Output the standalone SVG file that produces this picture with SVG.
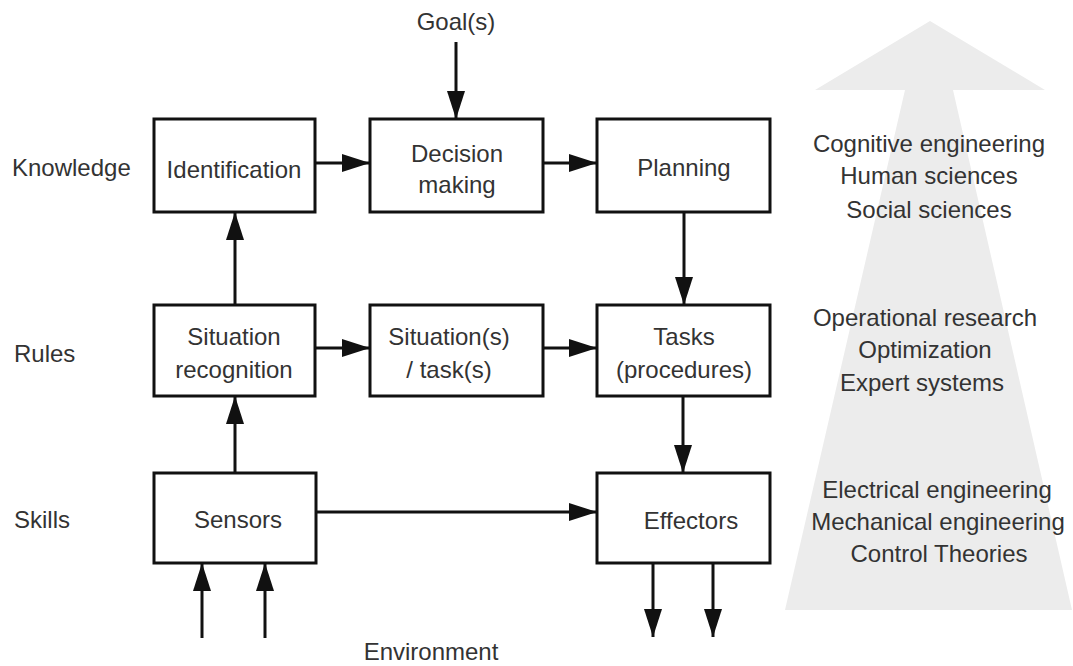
<svg xmlns="http://www.w3.org/2000/svg" width="1073" height="666" viewBox="0 0 1073 666">
<style>
  text { font-family: "Liberation Sans", Arial, sans-serif; font-size: 24px; fill: #333; }
  .c { text-anchor: middle; }
  .box { fill: #fff; stroke: #111; stroke-width: 3; }
  .ln { stroke: #111; stroke-width: 3; fill: none; marker-end: url(#ah); }
</style>
<defs>
  <marker id="ah" markerUnits="userSpaceOnUse" markerWidth="28" markerHeight="18" refX="28" refY="9" orient="auto">
    <path d="M0,0 L28,9 L0,18 z" fill="#111"/>
  </marker>
</defs>
<rect width="1073" height="666" fill="#fff"/>
<g id="bigarrow">
  <polygon points="930,21 1045,90 953,90 1072,610 785,610 905,90 815,90" fill="#ececec"/>
</g>
<g id="levels">
  <text x="12" y="176">Knowledge</text>
  <text x="14" y="362">Rules</text>
  <text x="14" y="528">Skills</text>
</g>
<g id="goal"><text class="c" x="456" y="30">Goal(s)</text></g>
<g id="environment"><text class="c" x="431" y="660">Environment</text></g>
<g id="identification"><rect class="box" x="154" y="119" width="161" height="93"/><text class="c" x="234" y="178">Identification</text></g>
<g id="decision"><rect class="box" x="370" y="119" width="173" height="93"/><text class="c" x="457" y="162">Decision</text><text class="c" x="457" y="193">making</text></g>
<g id="planning"><rect class="box" x="597" y="119" width="173" height="93"/><text class="c" x="684" y="176">Planning</text></g>
<g id="sitrec"><rect class="box" x="154" y="305" width="161" height="91"/><text class="c" x="234" y="345">Situation</text><text class="c" x="234" y="378">recognition</text></g>
<g id="sittask"><rect class="box" x="370" y="305" width="173" height="91"/><text class="c" x="449" y="345">Situation(s)</text><text class="c" x="449" y="378">/ task(s)</text></g>
<g id="tasks"><rect class="box" x="597" y="305" width="173" height="91"/><text class="c" x="684" y="345">Tasks</text><text class="c" x="684" y="378">(procedures)</text></g>
<g id="sensors"><rect class="box" x="154" y="473" width="162" height="90"/><text class="c" x="238" y="528">Sensors</text></g>
<g id="effectors"><rect class="box" x="597" y="473" width="173" height="90"/><text class="c" x="691" y="529">Effectors</text></g>
<g id="fields">
  <text class="c" x="929" y="152">Cognitive engineering</text>
  <text class="c" x="929" y="184">Human sciences</text>
  <text class="c" x="929" y="218">Social sciences</text>
  <text class="c" x="925" y="326">Operational research</text>
  <text class="c" x="925" y="358">Optimization</text>
  <text class="c" x="922" y="391">Expert systems</text>
  <text class="c" x="937" y="498">Electrical engineering</text>
  <text class="c" x="938" y="530">Mechanical engineering</text>
  <text class="c" x="939" y="562">Control Theories</text>
</g>
<g id="connectors">
  <line class="ln" x1="456" y1="42" x2="456" y2="119"/>
  <line class="ln" x1="315" y1="163" x2="370" y2="163"/>
  <line class="ln" x1="543" y1="163" x2="597" y2="163"/>
  <line class="ln" x1="315" y1="348" x2="370" y2="348"/>
  <line class="ln" x1="543" y1="348" x2="597" y2="348"/>
  <line class="ln" x1="235" y1="305" x2="235" y2="212"/>
  <line class="ln" x1="235" y1="473" x2="235" y2="396"/>
  <line class="ln" x1="684" y1="212" x2="684" y2="305"/>
  <line class="ln" x1="683" y1="396" x2="683" y2="473"/>
  <line class="ln" x1="316" y1="512" x2="597" y2="512"/>
  <line class="ln" x1="202" y1="638" x2="202" y2="563"/>
  <line class="ln" x1="265" y1="638" x2="265" y2="563"/>
  <line class="ln" x1="653" y1="563" x2="653" y2="637"/>
  <line class="ln" x1="713" y1="563" x2="713" y2="637"/>
</g>
</svg>
